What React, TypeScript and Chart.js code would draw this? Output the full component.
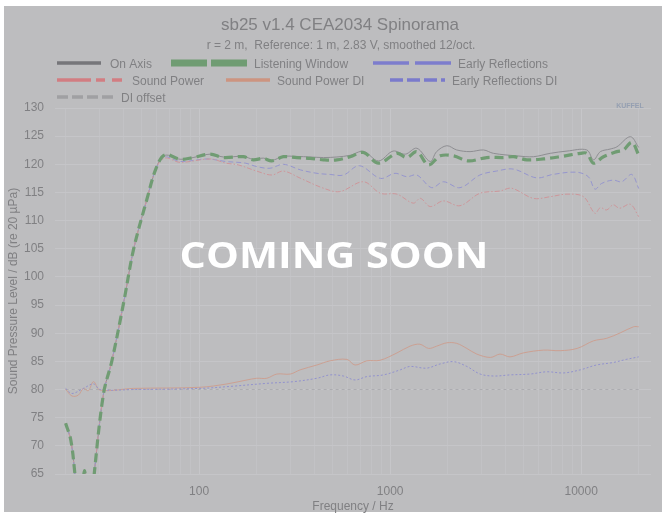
import React, { useEffect, useRef } from "react";
import { Chart, registerables } from "chart.js";

Chart.register(...registerables);

// ---------- data ----------
// shared low-frequency part (all four SPL curves coincide here)
const LOW_FREQ = [20, 21.3, 22.4, 23.5, 24.5, 25.1, 25.8, 27, 28.2, 31.6, 35, 40.5, 45.3, 53.2, 60];
const LOW_SPL = [74, 71, 64.8, 57, 62, 65.6, 62, 57, 64.8, 79.3, 85.2, 95.9, 104.8, 113.7, 119.6];

const ON_AXIS_FREQ = [66.4, 79.5, 93, 114, 134, 170, 192, 217, 240, 276, 324, 381, 448, 526, 618, 725, 869, 1035, 1200, 1380, 1620, 1750, 1980, 2230, 2620, 3080, 3470, 4600, 5620, 6890, 8430, 10700, 11600, 12600, 14150, 15370, 18100, 20000];
const ON_AXIS_SPL = [121.6, 120.9, 121.2, 121.8, 121.3, 121.4, 120.9, 121.1, 120.7, 121.4, 121.4, 121.3, 121.2, 121.3, 121.6, 122.3, 120.6, 122.35, 121.8, 122.85, 120.5, 122.25, 123.3, 122.55, 122.25, 122.55, 121.95, 121.5, 121.35, 121.95, 122.35, 122.55, 120.8, 122.25, 122.7, 123.1, 124.9, 123.0];

const LW_FREQ = [66.4, 79.5, 93, 114, 134, 170, 192, 217, 240, 276, 324, 381, 448, 526, 618, 725, 869, 1085, 1223, 1380, 1586, 1827, 2145, 2570, 3207, 3917, 4422, 5197, 6350, 7760, 9890, 10710, 11600, 13080, 15370, 16660, 18420, 20000];
const LW_SPL = [121.7, 120.9, 121.2, 121.8, 121.2, 121.35, 120.8, 121.05, 120.6, 121.35, 121.2, 121.05, 120.8, 120.8, 121.35, 122.1, 120.2, 121.95, 121.2, 122.25, 119.9, 121.5, 121.5, 120.6, 121.2, 121.2, 121.35, 120.8, 120.95, 121.35, 121.95, 121.95, 120.2, 121.35, 122.25, 122.55, 123.9, 121.65];

const ER_FREQ = [66.4, 79.5, 110, 138, 175, 200, 235, 276, 340, 414, 485, 570, 690, 890, 1060, 1223, 1380, 1650, 1900, 2320, 2950, 3600, 4420, 5830, 7100, 9400, 10900, 11800, 12800, 14700, 16300, 18400, 20000];
const ER_SPL = [121.3, 120.5, 120.95, 120.5, 120.2, 119.6, 119.3, 120.0, 119.0, 118.4, 118.2, 118.1, 119.75, 117.5, 118.4, 117.8, 118.1, 115.85, 116.9, 115.85, 118.1, 118.8, 119.15, 117.6, 118.2, 118.6, 117.8, 115.6, 116.6, 117.2, 116.9, 118.2, 115.7];

const SP_FREQ = [66.4, 79.5, 115, 138, 160, 200, 240, 276, 340, 448, 545, 725, 890, 1085, 1320, 1440, 1620, 1900, 2320, 2950, 3750, 4330, 5620, 6890, 8430, 10280, 11800, 12600, 13600, 14700, 15900, 18100, 20000];
const SP_SPL = [121.1, 120.35, 120.95, 120.2, 119.9, 118.8, 118.1, 118.8, 117.5, 115.75, 115.15, 116.9, 114.85, 114.7, 113.1, 113.95, 112.5, 113.5, 112.65, 114.85, 115.25, 115.75, 113.95, 114.25, 114.7, 114.25, 111.3, 112.3, 111.9, 112.8, 112.2, 112.9, 110.7];

const SPDI_FREQ = [20, 21.6, 23.3, 24.8, 26.3, 28, 30.3, 45.3, 101, 140, 178, 200, 226, 255, 300, 338, 413, 485, 594, 655, 755, 886, 1085, 1270, 1430, 1590, 1750, 1980, 2230, 2520, 2840, 3350, 3760, 4240, 4970, 6350, 7760, 9520, 11600, 13600, 16100, 18800, 20000];
const SPDI_VAL = [80.05, 78.85, 79.0, 80.2, 79.8, 81.4, 79.9, 80.2, 80.4, 81.0, 81.7, 82.0, 82.0, 82.75, 82.75, 83.5, 84.35, 85.1, 85.35, 84.35, 85.1, 85.2, 86.5, 87.7, 88.05, 87.3, 87.7, 88.3, 88.2, 87.3, 86.3, 85.7, 86.3, 85.8, 86.5, 87.0, 86.9, 87.3, 88.65, 89.1, 90.1, 91.15, 91.15];

const ERDI_FREQ = [20, 21.6, 24.8, 28, 30.3, 45.3, 101, 151, 226, 312, 413, 485, 569, 655, 755, 922, 1130, 1270, 1550, 1830, 2150, 2520, 2960, 3490, 4240, 5400, 6600, 8100, 9900, 12000, 14700, 17200, 20000];
const ERDI_VAL = [80.2, 79.3, 80.2, 81.0, 80.0, 80.0, 80.2, 80.6, 81.1, 81.4, 82.0, 82.6, 82.4, 81.7, 82.3, 82.6, 83.5, 84.1, 83.8, 84.55, 84.95, 84.1, 82.75, 82.4, 82.6, 82.75, 83.15, 82.95, 83.5, 84.35, 84.8, 85.35, 85.8];

const DIOFF_FREQ = [20, 20000];
const DIOFF_VAL = [80, 80];

const X_GRID_TICKS = [20, 30, 40, 50, 60, 70, 80, 90, 100, 200, 300, 400, 500, 600, 700, 800, 900, 1000, 2000, 3000, 4000, 5000, 6000, 7000, 8000, 9000, 10000, 20000];
const X_LABELS = [100, 1000, 10000];
const Y_MIN = 65;
const Y_MAX = 130;
const Y_STEP = 5;

const TITLE = "sb25 v1.4 CEA2034 Spinorama";
const SUBTITLE = "r = 2 m,  Reference: 1 m, 2.83 V, smoothed 12/oct.";
const Y_TITLE = "Sound Pressure Level / dB (re 20 µPa)";
const X_TITLE = "Frequency / Hz";
const OVERLAY = "COMING SOON";
const LOGO = "KUFFEL";

// ---------- style ----------
const BG = "rgb(189,189,191)";
const TEXT = "rgb(128,128,131)";
const FONT = "'Liberation Sans', Arial, sans-serif";

const C_OA = "rgb(142,142,146)";
const C_LW = "rgb(112,156,115)";
const C_ER = "rgb(150,150,206)";
const C_SP = "rgb(206,150,154)";
const C_SPDI = "rgb(204,160,146)";
const C_ERDI = "rgb(146,146,206)";
const C_DIOFF = "rgb(172,172,175)";

const L_OA = "rgb(118,118,122)";
const L_ER = "rgb(125,125,205)";
const L_SP = "rgb(210,125,130)";
const L_SPDI = "rgb(205,148,128)";
const L_ERDI = "rgb(122,122,204)";
const L_DIOFF = "rgb(160,160,163)";

function pts(f: number[], v: number[]) {
  return f.map((x, i) => ({ x, y: v[i] }));
}

// legend layout (positions only)
const LEGEND_LAYOUT = [
  { x: 57, y: 63, len: 44, w: 3.5, dash: [] as number[], tx: 110, color: L_OA },
  { x: 171, y: 63, len: 76, w: 7, dash: [36, 4], tx: 254, color: C_LW },
  { x: 373, y: 63, len: 78, w: 3.5, dash: [36, 6], tx: 458, color: L_ER },
  { x: 57, y: 80, len: 65, w: 3.5, dash: [34, 5, 9, 7], tx: 132, color: L_SP },
  { x: 226, y: 80, len: 44, w: 3.5, dash: [], tx: 277, color: L_SPDI },
  { x: 390, y: 80, len: 55, w: 3.5, dash: [13, 4], tx: 452, color: L_ERDI },
  { x: 57, y: 97, len: 57, w: 3.5, dash: [11, 4], tx: 121, color: L_DIOFF },
];

const decorPlugin = {
  id: "decor",
  beforeDraw(chart: any) {
    const ctx = chart.ctx;
    ctx.save();
    ctx.fillStyle = "#ffffff";
    ctx.fillRect(0, 0, chart.width, chart.height);
    ctx.fillStyle = BG;
    ctx.fillRect(4, 6, chart.width - 4, 506);
    ctx.restore();
  },
  afterDraw(chart: any) {
    const ctx = chart.ctx;
    ctx.save();
    // title + subtitle
    ctx.fillStyle = TEXT;
    ctx.textAlign = "center";
    ctx.textBaseline = "alphabetic";
    ctx.font = `17px ${FONT}`;
    ctx.fillText(TITLE, 340, 30);
    ctx.font = `12px ${FONT}`;
    ctx.fillText(SUBTITLE, 341, 49);
    // legend
    ctx.textAlign = "left";
    ctx.font = `12px ${FONT}`;
    chart.data.datasets.forEach((ds: any, i: number) => {
      const L = LEGEND_LAYOUT[i];
      if (!L) return;
      ctx.strokeStyle = L.color;
      ctx.lineWidth = L.w;
      ctx.lineCap = "butt";
      ctx.setLineDash(L.dash);
      ctx.beginPath();
      ctx.moveTo(L.x, L.y);
      ctx.lineTo(L.x + L.len, L.y);
      ctx.stroke();
      ctx.setLineDash([]);
      ctx.fillStyle = TEXT;
      ctx.fillText(ds.label, L.tx, L.y + 5);
    });
    // logo
    ctx.textAlign = "center";
    ctx.font = `bold 7px ${FONT}`;
    ctx.fillStyle = "rgb(150,160,178)";
    ctx.fillText(LOGO, 630, 108);
    // overlay text
    ctx.font = `bold 36px 'Open Sans', ${FONT}`;
    ctx.fillStyle = "#ffffff";
    ctx.translate(334, 268);
    ctx.scale(1.15, 1);
    ctx.fillText(OVERLAY, 0, 0);
    ctx.restore();
  },
};

export default function App() {
  const ref = useRef<HTMLCanvasElement | null>(null);
  useEffect(() => {
    if (!ref.current) return;
    const low = pts(LOW_FREQ, LOW_SPL);
    const chart = new Chart(ref.current, {
      type: "line",
      data: {
        datasets: [
          { label: "On Axis", data: [...low, ...pts(ON_AXIS_FREQ, ON_AXIS_SPL)], borderColor: C_OA, borderWidth: 1, order: 7 },
          { label: "Listening Window", data: [...low, ...pts(LW_FREQ, LW_SPL)], borderColor: C_LW, borderWidth: 3.2, borderDash: [9, 5], order: 1 },
          { label: "Early Reflections", data: [...low, ...pts(ER_FREQ, ER_SPL)], borderColor: C_ER, borderWidth: 1, borderDash: [5, 3], order: 5 },
          { label: "Sound Power", data: [...low, ...pts(SP_FREQ, SP_SPL)], borderColor: C_SP, borderWidth: 1, borderDash: [5, 2, 1.5, 2], order: 4 },
          { label: "Sound Power DI", data: pts(SPDI_FREQ, SPDI_VAL), borderColor: C_SPDI, borderWidth: 1, order: 3 },
          { label: "Early Reflections DI", data: pts(ERDI_FREQ, ERDI_VAL), borderColor: C_ERDI, borderWidth: 1, borderDash: [2, 2], order: 2 },
          { label: "DI offset", data: pts(DIOFF_FREQ, DIOFF_VAL), borderColor: C_DIOFF, borderWidth: 1, borderDash: [3, 3], order: 6 },
        ].map((d) => ({ ...d, pointRadius: 0, fill: false, tension: 0.35 })),
      },
      options: {
        animation: false,
        responsive: false,
        devicePixelRatio: 1,
        parsing: false as any,
        layout: { padding: { top: 108, left: 4, right: 11, bottom: 2 } },
        plugins: { legend: { display: false }, title: { display: false }, tooltip: { enabled: false } },
        scales: {
          x: {
            type: "logarithmic",
            min: 17.6,
            max: 23200,
            afterBuildTicks: (s: any) => {
              s.ticks = X_GRID_TICKS.map((v) => ({ value: v }));
            },
            afterFit: (s: any) => {
              s.height = 40;
            },
            ticks: {
              autoSkip: false,
              maxRotation: 0,
              padding: 10,
              color: TEXT,
              font: { family: FONT, size: 12 },
              callback: (v: any) => (X_LABELS.includes(Number(v)) ? String(v) : ""),
            },
            grid: {
              drawTicks: false,
              color: (c: any) => (X_LABELS.includes(c.tick?.value) ? "rgb(198,198,201)" : "rgb(194,194,197)"),
              lineWidth: 1,
            },
            border: { display: false },
            title: { display: true, text: X_TITLE, color: TEXT, font: { family: FONT, size: 12 }, padding: { top: 0, bottom: 0 } },
          },
          y: {
            min: Y_MIN,
            max: Y_MAX,
            afterFit: (s: any) => {
              s.width = 51;
            },
            ticks: { stepSize: Y_STEP, padding: 11, color: TEXT, font: { family: FONT, size: 12 } },
            grid: { drawTicks: false, color: "rgb(197,197,200)", lineWidth: 1 },
            border: { display: false },
            title: { display: true, text: Y_TITLE, color: TEXT, font: { family: FONT, size: 12 }, padding: { top: 2, bottom: 0 } },
          },
        },
      },
      plugins: [decorPlugin],
    } as any);
    return () => chart.destroy();
  }, []);
  return (
    <div style={{ position: "fixed", left: 0, top: 0, width: 662, height: 516 }}>
      <canvas ref={ref} width={662} height={516} style={{ width: 662, height: 516, display: "block" }} />
    </div>
  );
}
